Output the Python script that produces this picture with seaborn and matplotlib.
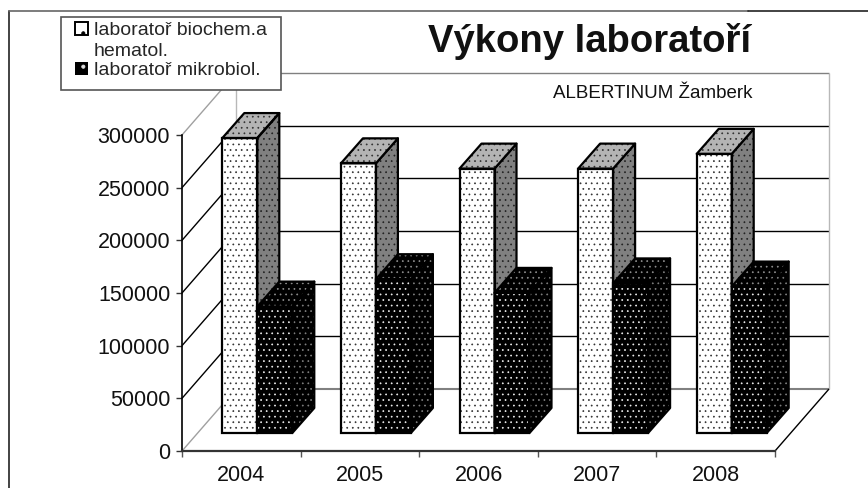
import matplotlib
matplotlib.use('Agg')
import matplotlib.pyplot as plt
from matplotlib.patches import Patch, Polygon, Rectangle
from matplotlib.lines import Line2D
import pandas as pd
import seaborn as sns

years = ['2004', '2005', '2006', '2007', '2008']
biochem = [280000, 256000, 251000, 251000, 265000]
mikrobiol = [120000, 146000, 133000, 142000, 139000]
series_names = ['laboratoř biochem.a', 'laboratoř mikrobiol.']
y_ticks = [0, 50000, 100000, 150000, 200000, 250000, 300000]

W, H = 868, 488
sns.set_style('white')
plt.rcParams['font.family'] = ['Liberation Sans', 'DejaVu Sans']
plt.rcParams['hatch.linewidth'] = 0.5

df = pd.DataFrame({
    'year': years * 2,
    'value': biochem + mikrobiol,
    'lab': [series_names[0]] * 5 + [series_names[1]] * 5,
})

fig = plt.figure(figsize=(W / 100, H / 100), dpi=100)
ax = fig.add_axes([182 / W, 1 - 451 / H, (775 - 182) / W, (451 - 135) / H])

sns.barplot(data=df, x='year', y='value', hue='lab', hue_order=series_names,
            palette=['white', 'black'], width=0.59, gap=0, saturation=1,
            errorbar=None, legend=False, ax=ax)
ax.set_xlim(-0.5, 4.5)
ax.set_ylim(0, 300000)

# pixel sizes of the fake 3d box, in data units
px_x = 5 / (775 - 182)
px_y = 300000 / (451 - 135)
wall_dx, wall_dy = 54 * px_x, 62 * px_y
floor_dx, floor_dy = 16 * px_x, 18 * px_y
bar_dx, bar_dy = 22 * px_x, 25 * px_y


def wall_line(xs, ys, color, lw=1.0):
    ax.plot(xs, ys, color=color, lw=lw, zorder=1, clip_on=False, solid_capstyle='butt')


# walls and gridlines
for v in y_ticks:
    c = '#a0a0a0' if v in (0, 300000) else 'black'
    wall_line([-0.5, -0.5 + wall_dx], [v, v + wall_dy], c)
    wall_line([-0.5 + wall_dx, 4.5 + wall_dx], [v + wall_dy, v + wall_dy], '#808080' if v in (0, 300000) else 'black',
              1.5 if v == 0 else 1.0)
wall_line([-0.5 + wall_dx] * 2, [wall_dy, 300000 + wall_dy], '#b8b8b8')
wall_line([4.5 + wall_dx] * 2, [wall_dy, 300000 + wall_dy], '#b8b8b8')
wall_line([4.5, 4.5 + wall_dx], [0, wall_dy], 'black')


def face(verts, fc, hc, z):
    ax.add_patch(Polygon(verts, facecolor=fc, edgecolor=hc, hatch='...', lw=0, zorder=z, clip_on=False))
    ax.add_patch(Polygon(verts, fill=False, edgecolor='black', lw=1.6, joinstyle='round', zorder=z + 0.1, clip_on=False))


styles = [
    {'front': ('white', '#303030'), 'top': ('#b4b4b4', '#303030'), 'side': ('#808080', '#202020')},
    {'front': ('black', '#f0f0f0'), 'top': ('black', '#909090'), 'side': ('black', '#808080')},
]

# shift the seaborn bars onto the floor and add their top and side
for s, container in enumerate(ax.containers):
    st = styles[s]
    for i, bar in enumerate(container):
        x0 = bar.get_x() + floor_dx
        x1 = x0 + bar.get_width()
        y0 = floor_dy
        y1 = y0 + bar.get_height()
        z = 3 + i * 2 + s
        bar.set_x(x0)
        bar.set_y(y0)
        bar.set_facecolor(st['front'][0])
        bar.set_edgecolor(st['front'][1])
        bar.set_hatch('...')
        bar.set_linewidth(0)
        bar.set_zorder(z)
        bar.set_clip_on(False)
        ax.add_patch(Polygon([(x0, y0), (x1, y0), (x1, y1), (x0, y1)], fill=False, edgecolor='black',
                             lw=1.6, zorder=z + 0.5, clip_on=False))
        face([(x1, y0), (x1 + bar_dx, y0 + bar_dy), (x1 + bar_dx, y1 + bar_dy), (x1, y1)], *st['side'], z + 0.2)
        face([(x0, y1), (x1, y1), (x1 + bar_dx, y1 + bar_dy), (x0 + bar_dx, y1 + bar_dy)], *st['top'], z + 0.3)

# axes
ax.set_xlabel('')
ax.set_ylabel('')
ax.set_yticks(y_ticks)
ax.set_yticklabels([str(v) for v in y_ticks], fontsize=15.5, color='#111111')
ax.set_xticks([-0.5, 0.5, 1.5, 2.5, 3.5, 4.5])
ax.set_xticklabels([])
ax.set_xticks(range(5), minor=True)
ax.set_xticklabels(years, minor=True, fontsize=15.5, color='#111111')
ax.tick_params(axis='y', which='major', left=True, length=4.5, width=1, color='#333333', pad=4)
ax.tick_params(axis='x', which='major', bottom=True, length=4.5, width=1, color='#555555')
ax.tick_params(axis='x', which='minor', bottom=False, pad=8)
sns.despine(ax=ax)
ax.spines['left'].set_color('black')
ax.spines['left'].set_linewidth(1.2)
ax.spines['bottom'].set_color('#333333')
ax.spines['bottom'].set_linewidth(1.6)
ax.patch.set_alpha(0)

# outer frame, only top and left are in the picture
fig.add_artist(Line2D([9 / W, 9 / W], [0, 1 - 11 / H], color='#222222', lw=1.2))
fig.add_artist(Line2D([9 / W, 748 / W], [1 - 11 / H, 1 - 11 / H], color='#666666', lw=1.2))
fig.add_artist(Line2D([748 / W, 1], [1 - 11 / H, 1 - 11 / H], color='#222222', lw=1.2))

fig.text(590 / W, 1 - 41 / H, 'Výkony laboratoří', fontsize=27.5, fontweight='bold', color='#111111',
         ha='center', va='center')
fig.text(653 / W, 1 - 93 / H, 'ALBERTINUM Žamberk', fontsize=13.5, color='#111111', ha='center', va='center')

# legend frame is its own box so the entries can sit as in the picture
frame = Rectangle((60.5 / W, 1 - 90 / H), 220.5 / W, 73 / H, transform=fig.transFigure,
                  facecolor='white', edgecolor='#555555', lw=1.2, zorder=19)
fig.add_artist(frame)
handles = [
    Patch(facecolor='white', edgecolor='black', hatch='.', lw=1.4),
    Patch(facecolor='black', edgecolor='#e0e0e0', hatch='.', lw=0),
]
leg = fig.legend(handles, series_names, loc='upper left', bbox_to_anchor=(75 / W, 1 - 22 / H),
                 frameon=False, fontsize=14, handlelength=0.65, handleheight=0.65,
                 handletextpad=0.35, labelspacing=1.15, borderpad=0, borderaxespad=0)
leg.set_zorder(20)
# second line of the first legend entry
fig.text(94 / W, 1 - 52 / H, 'hematol.', fontsize=14, color='.15', ha='left', va='center', zorder=21)

fig.savefig('out.png', dpi=100)
